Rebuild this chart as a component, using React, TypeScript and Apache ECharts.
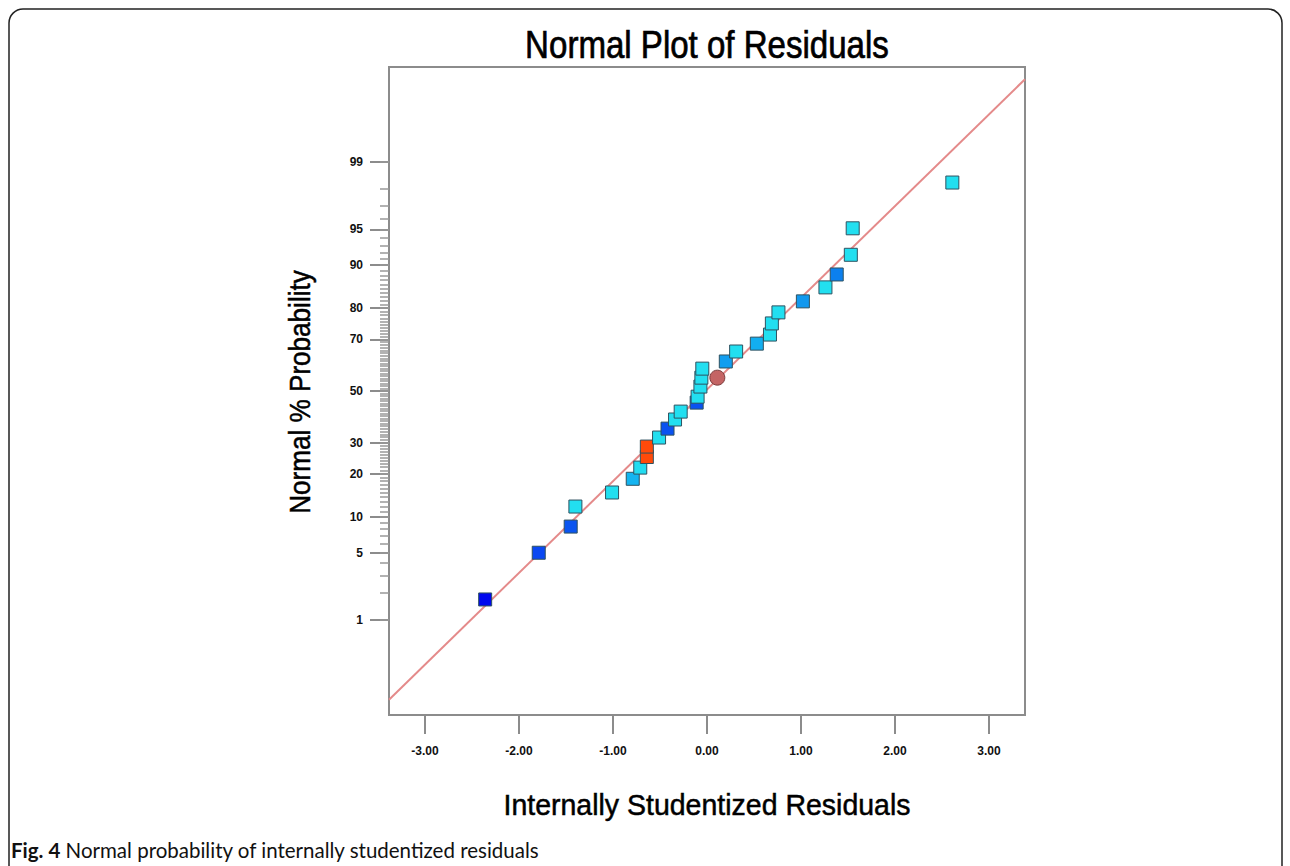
import React, { useEffect, useRef } from "react";
import * as echarts from "echarts";

// Internally studentized residuals (x) and their normal % probability (y)
const residuals = [
  -2.36, -1.79, -1.45, -1.4, -1.01, -0.79, -0.71, -0.64, -0.64, -0.51,
  -0.42, -0.34, -0.28, -0.11, -0.1, -0.07, -0.06, -0.05, 0.2, 0.31,
  0.53, 0.67, 0.69, 0.76, 1.02, 1.26, 1.38, 1.53, 1.55, 2.61,
];
const probabilities = [
  1.7, 5.0, 8.4, 12.0, 15.1, 18.6, 21.8, 25.1, 28.6, 31.8,
  35.1, 38.6, 41.7, 45.3, 47.7, 51.8, 55.4, 59.0, 61.8, 65.6,
  68.5, 71.7, 75.4, 78.8, 81.9, 85.4, 88.2, 91.7, 95.1, 98.3,
];
const pointColors = [
  "#0008ee", "#0a48f2", "#0a55f0", "#22dff0", "#22dff0", "#14b4f0", "#22dcf0", "#ff4a0a", "#ff4a0a", "#22dff0",
  "#0a52f0", "#22dff0", "#22dff0", "#0a52f0", "#22dff0", "#22dff0", "#22dff0", "#22dff0", "#129ef0", "#22dff0",
  "#12aef0", "#22dff0", "#22dff0", "#22dff0", "#1298ee", "#22dff0", "#0c80ee", "#22dff0", "#22dff0", "#22dff0",
];
const circleResidual = [0.11];
const circleProbability = [55.4];

const fitLineResiduals = [-3.383, 3.383];
const fitLineProbabilities = [0.0845, 99.924];

const yTickPercents = [1, 5, 10, 20, 30, 50, 70, 80, 90, 95, 99];
const yMinorPercents = Array.from({ length: 99 }, (_, i) => i + 1);
const xTickValues = [-3, -2, -1, 0, 1, 2, 3];

const chartTitle = "Normal Plot of Residuals";
const xTitle = "Internally Studentized Residuals";
const yTitle = "Normal % Probability";
const captionBold = "Fig. 4";
const captionText = " Normal probability of internally studentized residuals";

function probit(p: number): number {
  const a = [-39.69683028665376, 220.9460984245205, -275.9285104469687, 138.357751867269, -30.66479806614716, 2.506628277459239];
  const b = [-54.47609879822406, 161.5858368580409, -155.6989798598866, 66.80131188771972, -13.28068155288572];
  const c = [-0.007784894002430293, -0.3223964580411365, -2.400758277161838, -2.549732539343734, 4.374664141464968, 2.938163982698783];
  const d = [0.007784695709041462, 0.3224671290700398, 2.445134137142996, 3.754408661907416];
  const pl = 0.02425;
  const ph = 1 - pl;
  if (p < pl) {
    const q = Math.sqrt(-2 * Math.log(p));
    return (((((c[0] * q + c[1]) * q + c[2]) * q + c[3]) * q + c[4]) * q + c[5]) /
      ((((d[0] * q + d[1]) * q + d[2]) * q + d[3]) * q + 1);
  }
  if (p <= ph) {
    const q = p - 0.5;
    const r = q * q;
    return ((((((a[0] * r + a[1]) * r + a[2]) * r + a[3]) * r + a[4]) * r + a[5]) * q) /
      (((((b[0] * r + b[1]) * r + b[2]) * r + b[3]) * r + b[4]) * r + 1);
  }
  const q = Math.sqrt(-2 * Math.log(1 - p));
  return -(((((c[0] * q + c[1]) * q + c[2]) * q + c[3]) * q + c[4]) * q + c[5]) /
    ((((d[0] * q + d[1]) * q + d[2]) * q + d[3]) * q + 1);
}

const Z_MIN = -3.295;
const Z_MAX = 3.295;

export default function App() {
  const ref = useRef<HTMLDivElement>(null);

  useEffect(() => {
    document.body.style.margin = "0";
    if (!ref.current) return;
    const chart = echarts.init(ref.current, undefined, { renderer: "svg" });
    const font = "'Liberation Sans', Arial, sans-serif";
    const gray = "#8c8c8c";

    const majorZ = yTickPercents.map((p) => probit(p / 100));
    const minorZ = yMinorPercents.map((p) => probit(p / 100));

    chart.setOption({
      animation: false,
      backgroundColor: "#ffffff",
      grid: {
        left: 389,
        top: 67,
        width: 636,
        height: 648,
        show: true,
        borderColor: gray,
        borderWidth: 2,
        containLabel: false,
      },
      xAxis: {
        type: "value",
        min: -3.383,
        max: 3.383,
        axisLine: { show: true, onZero: false, lineStyle: { color: gray, width: 2 } },
        axisTick: { show: true, length: 19, customValues: xTickValues, lineStyle: { color: gray, width: 2 } },
        axisLabel: {
          customValues: xTickValues,
          margin: 30,
          formatter: (v: number) => v.toFixed(2),
          fontFamily: font,
          fontSize: 12,
          fontWeight: "bold",
          color: "#111",
        },
        splitLine: { show: false },
      },
      yAxis: [
        {
          type: "value",
          min: Z_MIN,
          max: Z_MAX,
          position: "left",
          axisLine: { show: true, onZero: false, lineStyle: { color: gray, width: 2 } },
          axisTick: { show: true, length: 19, customValues: majorZ, lineStyle: { color: gray, width: 2 } },
          axisLabel: {
            customValues: majorZ,
            margin: 26,
            formatter: (v: number) => {
              let best = yTickPercents[0];
              let bd = Infinity;
              yTickPercents.forEach((p) => {
                const dd = Math.abs(probit(p / 100) - v);
                if (dd < bd) { bd = dd; best = p; }
              });
              return String(best);
            },
            fontFamily: font,
            fontSize: 12,
            fontWeight: "bold",
            color: "#111",
          },
          splitLine: { show: false },
        },
        {
          type: "value",
          min: Z_MIN,
          max: Z_MAX,
          position: "left",
          offset: 0,
          axisLine: { show: false, onZero: false },
          axisTick: { show: true, length: 9, customValues: minorZ, lineStyle: { color: "#999", width: 1.5 } },
          axisLabel: { show: false },
          splitLine: { show: false },
        },
      ],
      series: [
        {
          type: "line",
          data: fitLineResiduals.map((x, i) => [x, probit(fitLineProbabilities[i] / 100)]),
          symbol: "none",
          lineStyle: { color: "#e48a8a", width: 2 },
          z: 1,
          silent: true,
        },
        {
          type: "scatter",
          symbol: "rect",
          symbolSize: 13,
          data: residuals.map((x, i) => ({
            value: [x, probit(probabilities[i] / 100)],
            itemStyle: { color: pointColors[i] },
          })),
          itemStyle: { borderColor: "#2f5260", borderWidth: 1, opacity: 1 },
          z: 3,
        },
        {
          type: "scatter",
          symbol: "circle",
          symbolSize: 15,
          data: circleResidual.map((x, i) => [x, probit(circleProbability[i] / 100)]),
          itemStyle: { color: "#c46464", borderColor: "#7a3c3c", borderWidth: 1, opacity: 1 },
          z: 4,
        },
      ],
      graphic: [
        {
          type: "rect",
          shape: { x: 9, y: 9, width: 1273, height: 900, r: 14 },
          style: { fill: "none", stroke: "#222", lineWidth: 1.5 },
          silent: true,
          z: 0,
        },
        {
          type: "text",
          x: 707,
          y: 45,
          scaleX: 0.87,
          style: {
            text: chartTitle,
            fontFamily: font,
            fontSize: 38,
            fill: "#000",
            stroke: "#000",
            lineWidth: 0.7,
            align: "center",
            verticalAlign: "middle",
          },
        },
        {
          type: "text",
          x: 707,
          y: 805,
          scaleX: 0.95,
          style: {
            text: xTitle,
            fontFamily: font,
            fontSize: 30,
            fill: "#000",
            stroke: "#000",
            lineWidth: 0.5,
            align: "center",
            verticalAlign: "middle",
          },
        },
        {
          type: "text",
          x: 300,
          y: 392,
          rotation: Math.PI / 2,
          scaleX: 0.9,
          style: {
            text: yTitle,
            fontFamily: font,
            fontSize: 29,
            fill: "#000",
            stroke: "#000",
            lineWidth: 0.5,
            align: "center",
            verticalAlign: "middle",
          },
        },
        {
          type: "text",
          x: 11,
          y: 850,
          style: {
            text: "{b|" + captionBold + "}{r|" + captionText + "}",
            verticalAlign: "middle",
            align: "left",
            rich: {
              b: { fontFamily: "Lato, 'Noto Sans', sans-serif", fontWeight: "bold", fontSize: 20.5, fill: "#111" },
              r: { fontFamily: "Lato, 'Noto Sans', sans-serif", fontSize: 20.5, fill: "#111" },
            },
          },
        },
      ],
    });

    return () => chart.dispose();
  }, []);

  return <div ref={ref} style={{ width: 1290, height: 866 }} />;
}
